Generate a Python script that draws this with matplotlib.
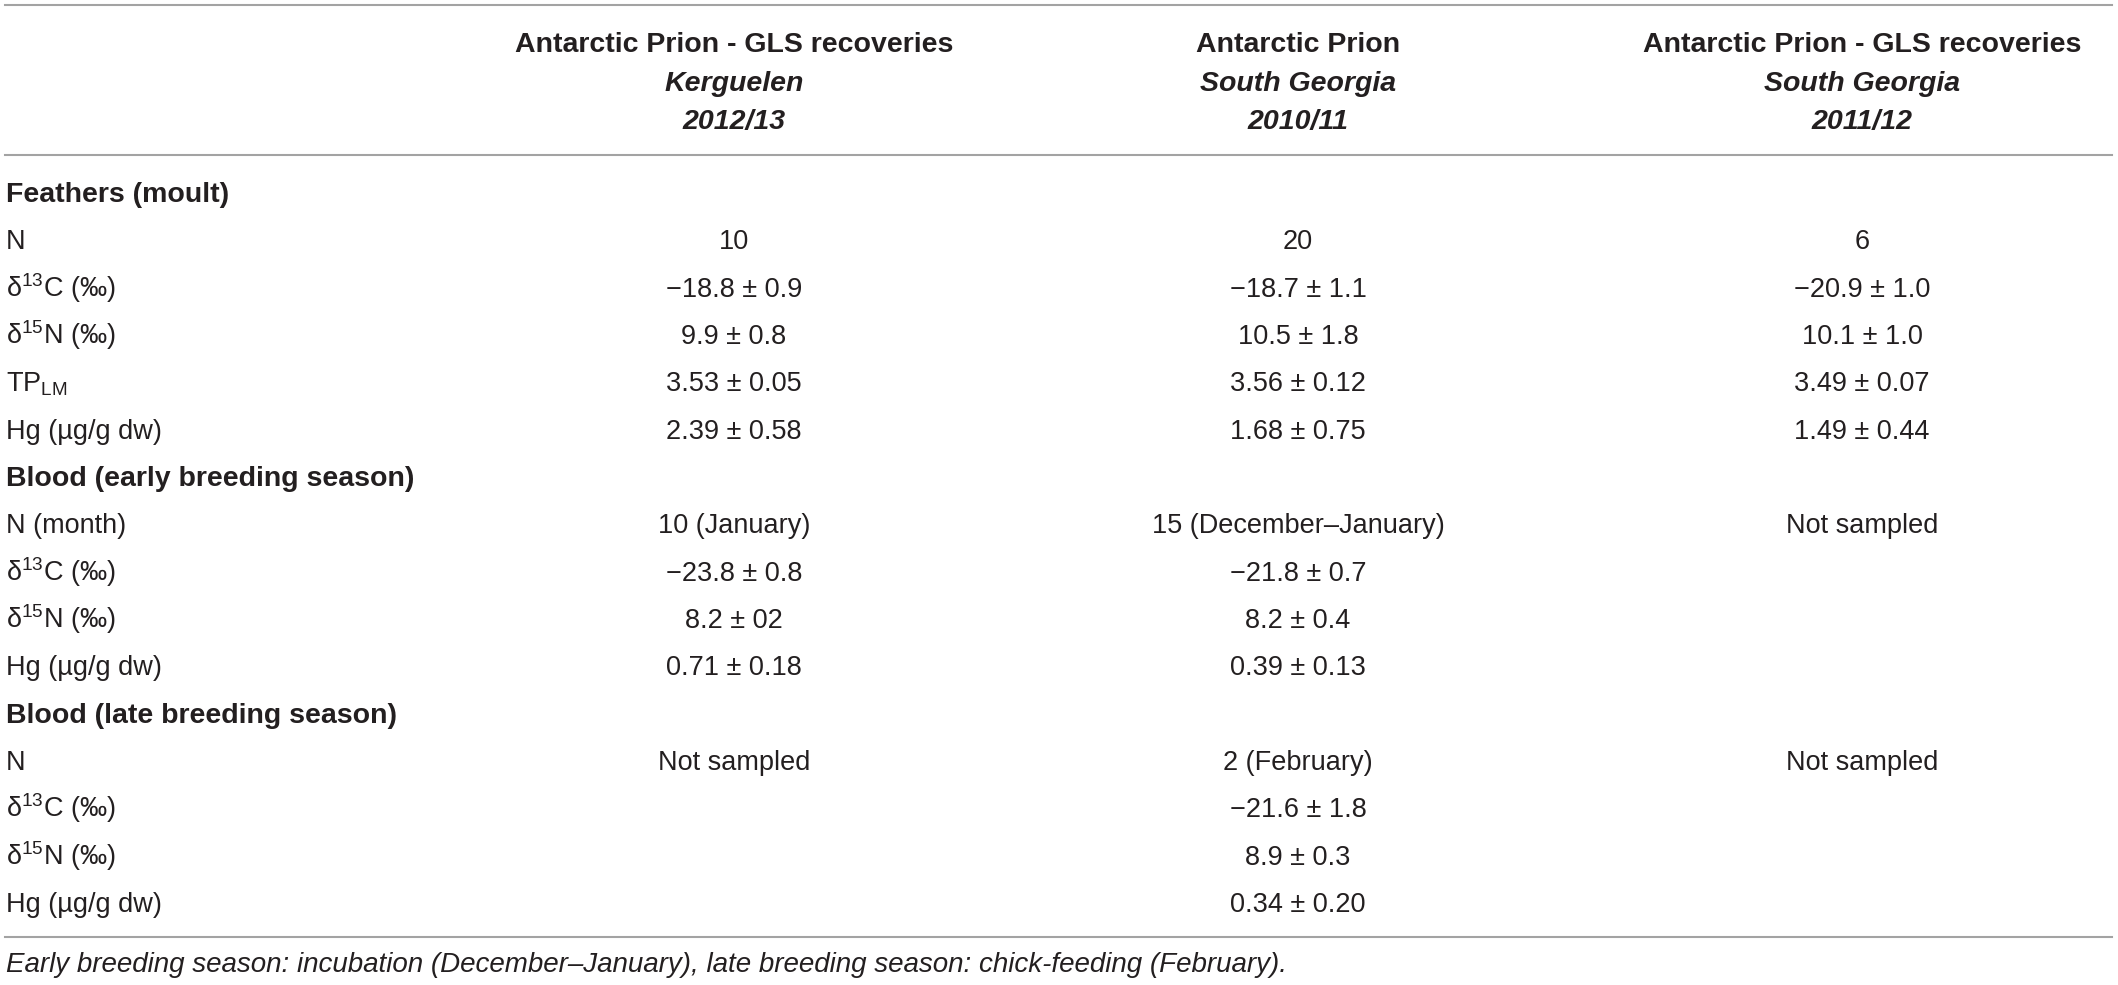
import matplotlib
matplotlib.use("Agg")
import matplotlib.pyplot as plt
from matplotlib.lines import Line2D

plt.rcParams['font.family'] = ['Liberation Sans', 'DejaVu Sans']
plt.rcParams['mathtext.fontset'] = 'custom'
plt.rcParams['mathtext.rm'] = 'Liberation Sans'
plt.rcParams['mathtext.it'] = 'Liberation Sans:italic'
plt.rcParams['mathtext.bf'] = 'Liberation Sans:bold'

# ---- data ----
col_titles = ['Antarctic Prion - GLS recoveries', 'Antarctic Prion', 'Antarctic Prion - GLS recoveries']
col_sites = ['Kerguelen', 'South Georgia', 'South Georgia']
col_seasons = ['2012/13', '2010/11', '2011/12']

row_labels = ['Feathers (moult)', 'N', r'δ$^{13}$C (‰)', r'δ$^{15}$N (‰)', r'TP$_{\mathrm{LM}}$',
              'Hg (µg/g dw)',
              'Blood (early breeding season)', 'N (month)', r'δ$^{13}$C (‰)', r'δ$^{15}$N (‰)',
              'Hg (µg/g dw)',
              'Blood (late breeding season)', 'N', r'δ$^{13}$C (‰)', r'δ$^{15}$N (‰)', 'Hg (µg/g dw)']
section_rows = [0, 6, 11]

kerguelen_2012 = ['', '10', '−18.8 ± 0.9', '9.9 ± 0.8', '3.53 ± 0.05', '2.39 ± 0.58',
                  '', '10 (January)', '−23.8 ± 0.8', '8.2 ± 02', '0.71 ± 0.18',
                  '', 'Not sampled', '', '', '']
south_georgia_2010 = ['', '20', '−18.7 ± 1.1', '10.5 ± 1.8', '3.56 ± 0.12', '1.68 ± 0.75',
                      '', '15 (December–January)', '−21.8 ± 0.7', '8.2 ± 0.4', '0.39 ± 0.13',
                      '', '2 (February)', '−21.6 ± 1.8', '8.9 ± 0.3', '0.34 ± 0.20']
south_georgia_2011 = ['', '6', '−20.9 ± 1.0', '10.1 ± 1.0', '3.49 ± 0.07', '1.49 ± 0.44',
                      '', 'Not sampled', '', '', '',
                      '', 'Not sampled', '', '', '']
columns = [kerguelen_2012, south_georgia_2010, south_georgia_2011]

footnote = ('Early breeding season: incubation (December–January), '
            'late breeding season: chick-feeding (February).')

# ---- layout ----
W, H = 2118, 985
fig = plt.figure(figsize=(W / 100, H / 100), dpi=100)
fig.patch.set_facecolor('white')

TXT = '#231f20'
RULE = '#a3a3a3'
BODY = 19.5
BOLD = 20.5
FOOT = 20

def P(x, y):
    return x / W, 1 - y / H

col_x = [734, 1298, 1862]
left_x = 6
head_base = [52, 91, 129]
row_base0 = 202
row_step = 47.33

for cx, t, s, se in zip(col_x, col_titles, col_sites, col_seasons):
    fig.text(*P(cx, head_base[0]), t, ha='center', va='baseline', fontsize=BOLD,
             fontweight='bold', color=TXT)
    fig.text(*P(cx, head_base[1]), s, ha='center', va='baseline', fontsize=BOLD,
             fontweight='bold', fontstyle='italic', color=TXT)
    fig.text(*P(cx, head_base[2]), se, ha='center', va='baseline', fontsize=BOLD,
             fontweight='bold', fontstyle='italic', color=TXT)

for i, lab in enumerate(row_labels):
    yb = row_base0 + i * row_step
    if i in section_rows:
        fig.text(*P(left_x, yb), lab, ha='left', va='baseline', fontsize=BOLD,
                 fontweight='bold', color=TXT)
    else:
        fig.text(*P(left_x, yb), lab, ha='left', va='baseline', fontsize=BODY, color=TXT)
    for cx, col in zip(col_x, columns):
        if col[i]:
            fig.text(*P(cx, yb), col[i], ha='center', va='baseline', fontsize=BODY, color=TXT)

fig.text(*P(left_x, 972), footnote, ha='left', va='baseline', fontsize=FOOT,
         fontstyle='italic', color=TXT)

for yy in [5, 155, 937]:
    x0, y0 = P(5, yy)
    x1, _ = P(2112, yy)
    fig.add_artist(Line2D([x0, x1], [y0, y0], color=RULE, lw=1.5))

fig.savefig('out.png', dpi=100, facecolor='white')
